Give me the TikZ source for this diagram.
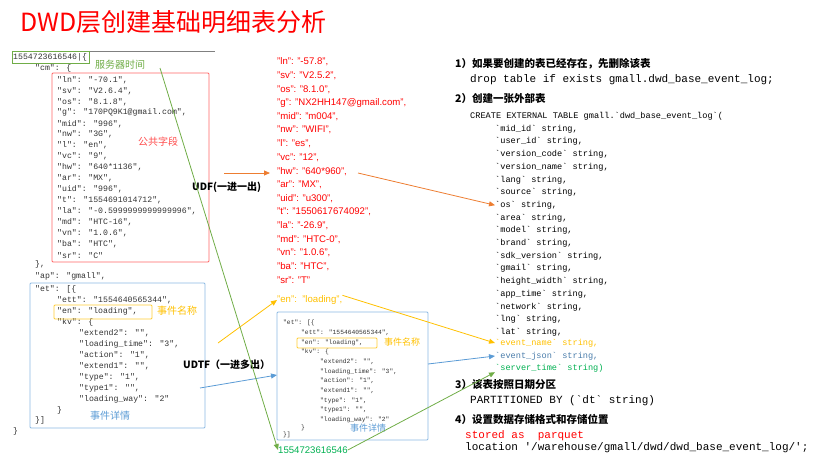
\documentclass[tikz,border=0pt]{standalone}
\usepackage{fontspec}
\setmainfont{Liberation Sans}
\newfontfamily\cjk{Noto Sans CJK SC}
\newfontfamily\mono{Liberation Mono}
\usetikzlibrary{arrows.meta}
\definecolor{jred}{HTML}{FF0000}
\definecolor{jorange}{HTML}{ED7D31}
\definecolor{jyellow}{HTML}{FFC000}
\definecolor{jblue}{HTML}{5B9BD5}
\definecolor{jgreen}{HTML}{70AD47}
\definecolor{dgreen}{HTML}{00B050}
\begin{document}
\begin{tikzpicture}[x=1pt,y=-1pt,
  every node/.style={inner sep=0pt,anchor=west},
  js/.style={font=\mono\fontsize{8.2}{9}\selectfont,text=black!80},
  jss/.style={font=\mono\fontsize{6.3}{7}\selectfont,text=black!80},
  mid/.style={font=\fontsize{9.6}{10}\selectfont,text=jred},
  sql/.style={font=\mono\fontsize{8.6}{9}\selectfont},
  big/.style={font=\mono\fontsize{11}{12}\selectfont},
  head/.style={font=\cjk\bfseries\fontsize{10.5}{12}\selectfont},
  lab/.style={font=\cjk\fontsize{10}{11}\selectfont},
  arr/.style={-{Triangle[length=6pt,width=5pt]},line width=0.8pt}]
\useasboundingbox (0,0) rectangle (826,466);
\node (title) [font=\cjk\fontsize{25}{27}\selectfont,text=jred] at (20,22) {DWD层创建基础明细表分析};
% left JSON
\draw[gray,line width=0.8pt] (12,51) -- (215,51);
\node (s0) [js] at (13,57) {1554723616546|\{};
\draw[jgreen,line width=0.8pt] (12,51) rectangle (89,63);
\node (srvlab) [lab,text=jgreen] at (95,65) {服务器时间};
\node [js] at (35,68) {"cm": \{};
\foreach \t [count=\i from 0] in {{"ln": "-70.1",},{"sv": "V2.6.4",},{"os": "8.1.8",},{"g": "170PQ9K1@gmail.com",},{"mid": "996",},{"nw": "3G",},{"l": "en",},{"vc": "9",},{"hw": "640*1136",},{"ar": "MX",},{"uid": "996",},{"t": "1554691014712",},{"la": "-0.5999999999999996",},{"md": "HTC-16",},{"vn": "1.0.6",},{"ba": "HTC",},{"sr": "C"}}
  \node [js] at (57,{80+10.95*\i}) {\t};
\draw[jred!60,line width=0.8pt,rounded corners=1pt] (52,73) rectangle (209,262);
\node [lab,text=jred!70] at (138,142) {公共字段};
\node [js] at (35,264) {\},};
\node [js] at (35,276) {"ap": "gmall",};
\node [js] at (35,289) {"et": [\{};
\node [js] at (57,300) {"ett": "1554640565344",};
\node (len) [js] at (57,311) {"en": "loading",};
\node [js] at (57,322) {"kv": \{};
\foreach \t [count=\i from 0] in {{"extend2": "",},{"loading\_time": "3",},{"action": "1",},{"extend1": "",},{"type": "1",},{"type1": "",},{"loading\_way": "2"}}
  \node [js] at (79,{333+11*\i}) {\t};
\node [js] at (57,410) {\}};
\node [js] at (35,420) {\}]};
\node [js] at (13,431) {\}};
\draw[jyellow!80,line width=0.8pt,rounded corners=1pt] (54,305) rectangle (152,319);
\node [lab,text=jyellow] at (157,311) {事件名称};
\draw[jblue!70,line width=0.8pt,rounded corners=1pt] (30,283) rectangle (205,428);
\node [lab,text=jblue] at (90,416) {事件详情};
% middle red
\foreach \t [count=\i from 0] in {{"ln": "-57.8",},{"sv": "V2.5.2",},{"os": "8.1.0",},{"g": "NX2HH147@gmail.com",},{"mid": "m004",},{"nw": "WIFI",},{"l": "es",},{"vc": "12",},{"hw": "640*960",},{"ar": "MX",},{"uid": "u300",},{"t": "1550617674092",},{"la": "-26.9",},{"md": "HTC-0",},{"vn": "1.0.6",},{"ba": "HTC",},{"sr": "T"}}
  \node [mid] at (277,{62+13.65*\i}) {\t};
\node (enm) [mid,text=jyellow] at (277,300) {"en":\ \ "loading",};
% middle box
\node [jss] at (283,323) {"et": [\{};
\node [jss] at (301,333) {"ett": "1554640565344",};
\node [jss] at (301,343) {"en": "loading",};
\node [jss] at (301,352) {"kv": \{};
\foreach \t [count=\i from 0] in {{"extend2": "",},{"loading\_time": "3",},{"action": "1",},{"extend1": "",},{"type": "1",},{"type1": "",},{"loading\_way": "2"}}
  \node [jss] at (320,{362+9.6*\i}) {\t};
\node [jss] at (301,428) {\}};
\node [jss] at (283,435) {\}]};
\draw[jyellow!80,line width=0.8pt,rounded corners=1pt] (297,338) rectangle (377,348);
\node [lab,text=jyellow,font=\cjk\fontsize{9}{10}\selectfont] at (384,342) {事件名称};
\draw[jblue!70,line width=0.8pt,rounded corners=1pt] (277,312) rectangle (428,440);
\coordinate (boxr) at (428,364);
\coordinate (boxl) at (277,375);
\node [lab,text=jblue,font=\cjk\fontsize{9}{10}\selectfont] at (350,428) {事件详情};
\node (srv) [mid,text=dgreen] at (278,450) {1554723616546};
% labels
\node (udf) [font=\cjk\bfseries\fontsize{10}{10}\selectfont] at (192,187) {UDF(一进一出)};
\node (udtf) [font=\cjk\bfseries\fontsize{10}{10}\selectfont] at (183,365) {UDTF（一进多出）};
% right SQL
\node [head] at (455,64) {1）如果要创建的表已经存在，先删除该表};
\node [big] at (470,80) {drop table if exists gmall.dwd\_base\_event\_log;};
\node [head] at (455,98) {2）创建一张外部表};
\node [sql] at (470,116) {CREATE EXTERNAL TABLE gmall.`dwd\_base\_event\_log`(};
\foreach \t [count=\i from 0] in {mid\_id,user\_id,version\_code,version\_name,lang,source,os,area,model,brand,sdk\_version,gmail,height\_width,app\_time,network,lng,lat}
  \node (f\i) [sql] at (495,{129+12.7*\i}) {`\t` string,};
\node (fen) [sql,text=jyellow] at (495,343) {`event\_name` string,};
\node (fej) [sql,text=jblue!80!black] at (495,356) {`event\_json` string,};
\node (fst) [sql,text=dgreen] at (495,368) {`server\_time` string)};
\node [head] at (455,385) {3）该表按照日期分区};
\node [big] at (470,401) {PARTITIONED BY (`dt` string)};
\node [head] at (455,419) {4）设置数据存储格式和存储位置};
\node [big,text=jred] at (465,436) {stored as\ \ parquet};
\node [big] at (465,448) {location '/warehouse/gmall/dwd/dwd\_base\_event\_log/';};
% arrows
\coordinate (o1) at (224,173); \coordinate (o2) at (270,173);
\draw[arr,jorange] (o1) -- (o2);
\coordinate (o3) at (358,173);
\draw[arr,jorange] (o3) -- (f6.west);
\coordinate (y1) at (218,343);
\draw[arr,jyellow] (y1) -- (enm.west);
\draw[arr,jyellow] (enm.north east) -- (fen.west);
\coordinate (b1) at (200,388);
\draw[arr,jblue] (b1) -- (boxl);
\draw[arr,jblue] (boxr) -- (fej.west);
\coordinate (g1) at (160,68);
\draw[arr,jgreen] (g1) -- (srv.west);
\draw[arr,jgreen] (srv.east) -- (fst.south west);
\end{tikzpicture}
\end{document}
